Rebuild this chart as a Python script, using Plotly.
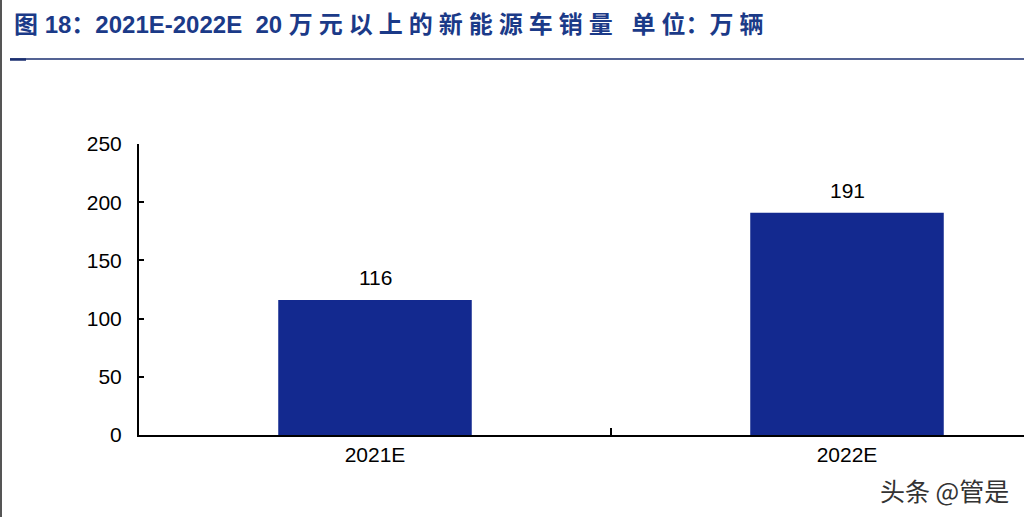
import plotly.graph_objects as go

# 20万元以上新能源车销量（万辆）
years = ["2021E", "2022E"]
sales = [116, 191]
y_ticks = [0, 50, 100, 150, 200, 250]

W, H = 1024, 517
L, R, T, B = 139, 0, 144, 82
pw, ph = W - L - R, H - T - B


def px_x(x):
    return (x - L) / pw


def px_y(y):
    return (H - B - y) / ph


def spaced(s):
    # the source title puts a little air between Chinese characters
    return "\u2006\u200a".join(s)


fig = go.Figure()
fig.add_trace(go.Bar(
    x=years,
    y=sales,
    marker=dict(color="#13298f", line=dict(width=0)),
    showlegend=False,
    hoverinfo="skip",
))

# value labels
for yr, v in zip(years, sales):
    fig.add_annotation(
        x=yr, y=v, text=str(v), showarrow=False,
        yanchor="bottom", yshift=9,
        font=dict(family="Liberation Sans, Arial", size=21, color="#000000"),
    )

title = ("<b>" + "图\u00a018：2021E-2022E\u00a0\u00a020\u00a0" + spaced("万元以上的新能源车销量")
         + "\u2002\u00a0" + spaced("单位") + "：" + spaced("万辆") + "</b>")

fig.update_layout(
    width=W,
    height=H,
    margin=dict(l=L, r=R, t=T, b=B),
    paper_bgcolor="white",
    plot_bgcolor="white",
    bargap=0.59,
    title=dict(
        text=title,
        font=dict(family="Liberation Sans, Noto Sans CJK SC", size=24, color="#1b3a88"),
        xref="container", yref="container",
        x=14 / W, y=1 - 25 / H,
        xanchor="left", yanchor="middle",
    ),
    font=dict(family="Liberation Sans, Arial", size=21, color="#000000"),
)

fig.update_xaxes(
    type="category",
    range=[-0.5, -0.5 + pw / 472],
    showline=True, linecolor="#000000", linewidth=2,
    ticks="inside", tickson="boundaries", ticklen=7, tickcolor="#000000", tickwidth=1.5,
    showgrid=False, zeroline=False,
    tickfont=dict(size=21, color="#000000"),
)
fig.update_yaxes(
    range=[0, 250],
    tickvals=y_ticks,
    showline=True, linecolor="#000000", linewidth=2,
    ticks="inside", ticklen=5, tickcolor="#000000", tickwidth=1.5,
    showgrid=False, zeroline=False,
    tickfont=dict(size=21, color="#000000"),
    ticklabelstandoff=11,
)

# title underline and left border
fig.add_shape(type="line", xref="paper", yref="paper",
              x0=px_x(10), x1=px_x(W), y0=px_y(59), y1=px_y(59),
              line=dict(color="#1b2f70", width=1.5))
fig.add_shape(type="line", xref="paper", yref="paper",
              x0=px_x(10), x1=px_x(26), y0=px_y(59.5), y1=px_y(59.5),
              line=dict(color="#1b2f70", width=2.5))
fig.add_shape(type="line", xref="paper", yref="paper",
              x0=px_x(1), x1=px_x(1), y0=px_y(0), y1=px_y(H),
              line=dict(color="#555555", width=2))

# watermark
fig.add_annotation(
    text="头条 @管是", xref="paper", yref="paper",
    x=px_x(1011), y=px_y(490), xanchor="right", yanchor="middle",
    showarrow=False,
    font=dict(family="Noto Sans CJK SC", size=25, color="#333333"),
)

fig.write_html("out.html", config={"displayModeBar": False},
               post_script="document.body.style.margin='0px';")
